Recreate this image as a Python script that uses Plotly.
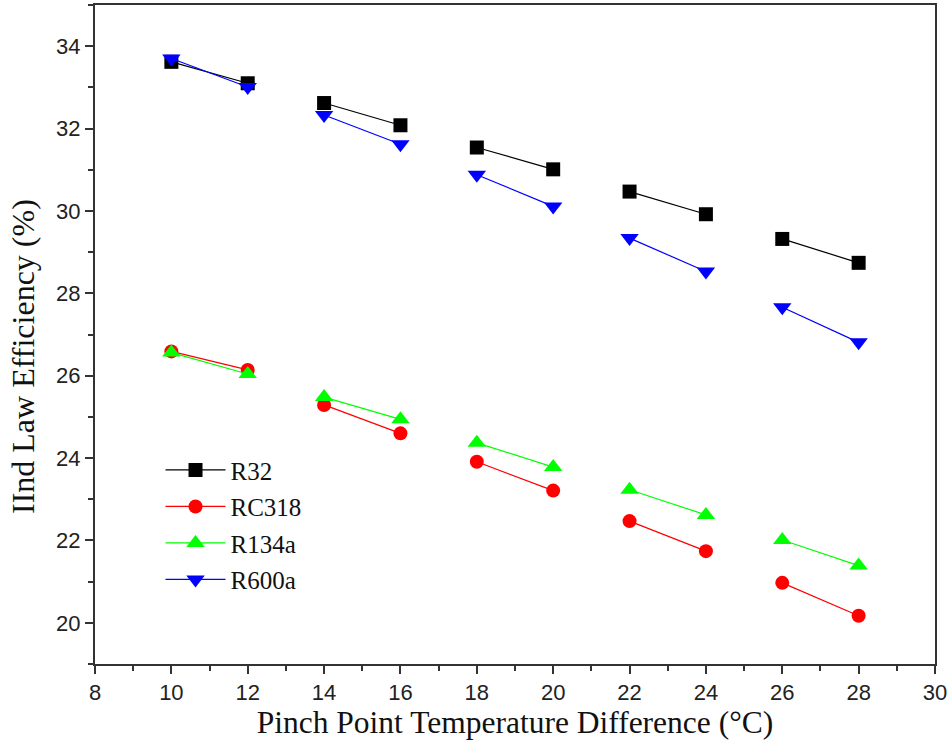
import plotly.graph_objects as go

x_vals = [10, 12, 14, 16, 18, 20, 22, 24, 26, 28]
r32 = [33.62, 33.10, 32.62, 32.08, 31.54, 31.01, 30.47, 29.92, 29.32, 28.74]
rc318 = [26.59, 26.14, 25.29, 24.60, 23.91, 23.21, 22.47, 21.74, 20.97, 20.17]
r134a = [26.56, 26.04, 25.48, 24.94, 24.37, 23.78, 23.23, 22.62, 22.01, 21.39]
r600a = [33.70, 33.01, 32.33, 31.62, 30.88, 30.11, 29.34, 28.53, 27.66, 26.81]

names = ["R32", "RC318", "R134a", "R600a"]
series = [r32, rc318, r134a, r600a]
colors = ["#000000", "#ff0000", "#00ff00", "#0000ff"]
symbols = ["square", "circle", "triangle-up", "triangle-down"]
sizes = [14, 14, 16, 16]


def pairs(xs, ys):
    ox, oy = [], []
    for i in range(0, len(xs), 2):
        ox += [xs[i], xs[i + 1], None]
        oy += [ys[i], ys[i + 1], None]
    return ox, oy


fig = go.Figure()
for name, ys, c, s, sz in zip(names, series, colors, symbols, sizes):
    px, py = pairs(x_vals, ys)
    fig.add_trace(go.Scatter(
        x=px, y=py, name=name, mode="lines+markers", connectgaps=False,
        legendgroup=name,
        line=dict(color=c, width=1.2),
        marker=dict(symbol=s, size=sz, color=c, line=dict(width=0)),
    ))

axis_common = dict(
    showgrid=False, zeroline=False, showline=True, linecolor="#333333", linewidth=2,
    mirror=True, ticks="outside", ticklen=8, tickwidth=1.5, tickcolor="#333333",
    tickfont=dict(family="Liberation Sans, Arial", size=22, color="#222222"),
    minor=dict(ticks="outside", ticklen=5, tickwidth=1.5, tickcolor="#333333"),
    automargin=False,
)

fig.update_layout(
    width=948, height=748,
    margin=dict(l=95, r=13, t=5, b=84),
    paper_bgcolor="white", plot_bgcolor="white",
    showlegend=True,
    legend=dict(
        x=0.078, y=0.329, xanchor="left", yanchor="top",
        font=dict(family="Liberation Serif, Times New Roman", size=25, color="#111111"),
        bgcolor="rgba(0,0,0,0)", tracegroupgap=1, traceorder="grouped",
        itemwidth=60,
    ),
    xaxis=dict(
        range=[8, 30], dtick=2, tick0=8,
        title=dict(text="Pinch Point Temperature Difference (°C)",
                   font=dict(family="Liberation Serif, Times New Roman", size=31.5, color="#111111"),
                   standoff=4),
        **axis_common,
    ),
    yaxis=dict(
        range=[19, 35], dtick=2, tick0=20,
        **axis_common,
    ),
    annotations=[dict(
        text="IInd Law Efficiency (%)", textangle=-90,
        xref="paper", yref="paper", x=-(95 - 23) / 840, y=(664 - 357) / 659,
        xanchor="center", yanchor="middle", showarrow=False,
        font=dict(family="Liberation Serif, Times New Roman", size=32, color="#111111"),
    )],
)
fig.update_xaxes(minor=dict(dtick=1))
fig.update_yaxes(minor=dict(dtick=1))

fig.write_html("out.html", config={"displayModeBar": False},
               post_script="document.body.style.margin='0';")
